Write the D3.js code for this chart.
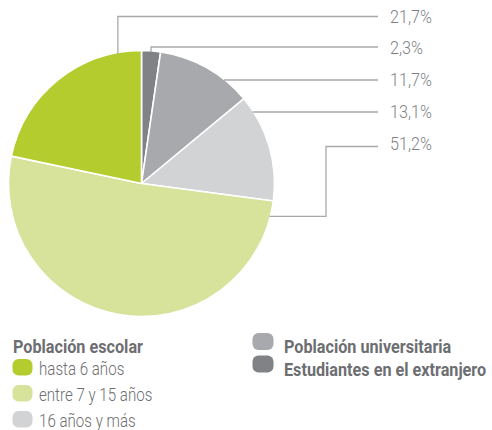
<!DOCTYPE html>
<html><head><meta charset="utf-8">
<script src="https://cdn.jsdelivr.net/npm/d3@7"></script>
<style>
html,body{margin:0;padding:0;background:#fff;}
svg{display:block;}
text{font-family:"Roboto","Liberation Sans",sans-serif;}
</style></head>
<body>
<svg id="chart" width="492" height="430"></svg>
<script>
// Data (clockwise from 12 o'clock)
const categories = ["Estudiantes en el extranjero","Población universitaria","16 años y más","entre 7 y 15 años","hasta 6 años"];
const values = [2.3, 11.7, 13.1, 51.2, 21.7];
const colors = ["#808285","#a7a9ac","#d1d3d4","#d7e29b","#b5cc2f"];
const valueLabels = ["2,3%","11,7%","13,1%","51,2%","21,7%"];
// Order of labels on the right, top to bottom
const labelOrder = [4, 0, 1, 2, 3];
const legendTitle = "Población escolar";
const legendLeft = ["hasta 6 años","entre 7 y 15 años","16 años y más"];
const legendRight = ["Población universitaria","Estudiantes en el extranjero"];

const svg = d3.select("#chart");
const cx = 141.5, cy = 183.5, R = 133;
const g = svg.append("g").attr("transform", `translate(${cx},${cy})`);

const pie = d3.pie().sort(null).value(d => d);
const arcs = pie(values);
const arc = d3.arc().innerRadius(0).outerRadius(R);

g.selectAll("path.slice").data(arcs).enter().append("path")
  .attr("class","slice")
  .attr("d", arc)
  .attr("fill", (d,i) => colors[i])
  .attr("stroke","#fff").attr("stroke-width",1.6).attr("stroke-linejoin","round");

// condensed text helper
function ctext(sel, x, y, str, size, weight, fill, k){
  return sel.append("text").attr("transform", `translate(${x},${y}) scale(${k},1)`)
    .attr("font-size", size).attr("font-weight", weight).attr("fill", fill).text(str);
}

// Labels + leader lines
const labelX = 390, lineEnd = 378;
const labelYs = [16.5, 47, 80, 112, 146.5]; // leader y for each label row
const labelBase = [22.5, 54, 86, 118, 150];
const lineColor = "#a7a9ac";
const lines = svg.append("g").attr("fill","none").attr("stroke",lineColor).attr("stroke-width",1.3);

function pointAt(angle, r){ return [cx + r*Math.sin(angle), cy - r*Math.cos(angle)]; }

labelOrder.forEach((idx, row) => {
  const a = arcs[idx];
  const ly = labelYs[row];
  let pts;
  if (idx === 4) { // 21,7%: vertical from near top of green slice
    const ang = a.endAngle - 0.18;
    const p = pointAt(ang, R - 1);
    pts = [p, [p[0], ly], [lineEnd, ly]];
  } else if (idx === 0) { // 2,3%: vertical from mid-angle
    const ang = (a.startAngle + a.endAngle)/2;
    const p = pointAt(ang, R - 1);
    pts = [p, [p[0], ly], [lineEnd, ly]];
  } else if (idx === 3) { // 51,2%: from the arc, elbow up
    const ang = a.startAngle + 0.12;
    const p = pointAt(ang, R - 1);
    const ex = 326;
    pts = [p, [ex, p[1]], [ex, ly], [lineEnd, ly]];
  } else { // horizontal from arc
    const dy = ly - cy;
    const x = cx + Math.sqrt(R*R - dy*dy) - 1;
    pts = [[x, ly], [lineEnd, ly]];
  }
  lines.append("path").attr("d", d3.line()(pts));
  ctext(svg, labelX, labelBase[row], valueLabels[idx], 19, 300, "#808285", 0.85);
});

// Legend
const leg = svg.append("g");
const textCol = "#6d6e71";
ctext(leg, 13, 353, legendTitle, 18, 700, textCol, 0.9);
const leftColors = [colors[4], colors[3], colors[2]];
legendLeft.forEach((t,i) => {
  const by = 375 + i*26;
  leg.append("rect").attr("x",12.5).attr("y",by-16).attr("width",20).attr("height",16.5).attr("rx",6)
    .attr("fill", leftColors[i]);
  ctext(leg, 39, by, t, 18, 300, textCol, 0.84);
});
const rightColors = [colors[1], colors[0]];
legendRight.forEach((t,i) => {
  const by = 353 + i*22.5;
  leg.append("rect").attr("x",252.5).attr("y",by-20).attr("width",21).attr("height",17).attr("rx",6)
    .attr("fill", rightColors[i]);
  ctext(leg, 284, by, t, 18, 700, textCol, 0.9);
});
</script>
</body></html>
